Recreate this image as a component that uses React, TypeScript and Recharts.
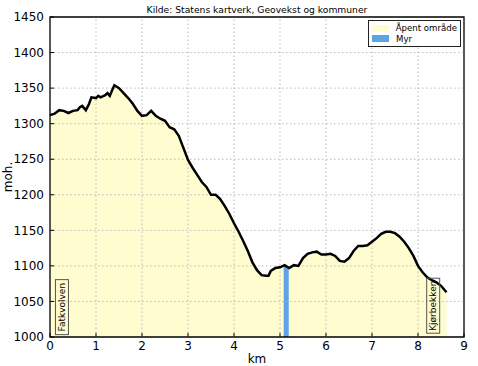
import React from 'react';
import {
  ComposedChart, Area, Line, XAxis, YAxis, ReferenceArea, ReferenceDot, ReferenceLine,
} from 'recharts';

const kmValues = [
  0, 0.1, 0.2, 0.3, 0.4, 0.5, 0.6, 0.65, 0.7, 0.78, 0.85, 0.9, 1.0, 1.05, 1.1, 1.2, 1.25, 1.3, 1.35, 1.4,
  1.5, 1.6, 1.7, 1.8, 1.9, 2.0, 2.1, 2.2, 2.3, 2.4, 2.5, 2.6, 2.7, 2.8, 2.9, 3.0, 3.1, 3.2, 3.3, 3.4,
  3.5, 3.6, 3.7, 3.8, 3.9, 4.0, 4.1, 4.2, 4.3, 4.4, 4.5, 4.6, 4.7, 4.75, 4.8, 4.9, 5.0, 5.1, 5.2, 5.3,
  5.4, 5.5, 5.6, 5.7, 5.8, 5.9, 6.0, 6.1, 6.2, 6.3, 6.4, 6.5, 6.6, 6.7, 6.8, 6.9, 7.0, 7.1, 7.2, 7.3,
  7.4, 7.5, 7.6, 7.7, 7.8, 7.9, 8.0, 8.1, 8.2, 8.3, 8.4, 8.5, 8.62,
];
const elevations = [
  1312, 1314, 1319, 1318, 1315, 1318, 1319, 1323, 1325, 1319, 1328, 1337, 1336, 1339, 1337, 1340, 1343, 1339, 1347, 1354,
  1350, 1343, 1336, 1328, 1318, 1311, 1312, 1318, 1311, 1307, 1304, 1295, 1292, 1283, 1266, 1249, 1238, 1228, 1218, 1211,
  1200, 1200, 1194, 1184, 1173, 1160, 1148, 1135, 1121, 1105, 1094, 1087, 1086, 1086, 1093, 1097, 1098, 1101, 1097, 1101,
  1100, 1111, 1117, 1119, 1120, 1116, 1116, 1117, 1114, 1107, 1106, 1111, 1121, 1128, 1128, 1129, 1134, 1139, 1145, 1148,
  1148, 1146, 1141, 1134, 1125, 1114, 1100, 1091, 1084, 1080, 1077, 1072, 1063,
];

const myrStartKm = [5.08];
const myrEndKm = [5.19];
const myrElev = [1100];

const placeNames = ['Fatkvolven', 'Kjørbekken'];
const placeKm = [0.26, 8.33];
const placeElev = [1042, 1044];

const xTicks = [0, 1, 2, 3, 4, 5, 6, 7, 8, 9];
const yTicks = [1000, 1050, 1100, 1150, 1200, 1250, 1300, 1350, 1400, 1450];

const legendNames = ['Åpent område', 'Myr'];

const rows = kmValues.map((k, i) => ({ km: k, elev: elevations[i] }));

const FONT = 'DejaVu Sans';
const OPEN = '#FFFCD0';
const MYR = '#5EA3E6';
const legendColors = [OPEN, MYR];

const PlaceLabel = (name: string) => (props: any) => {
  const { cx, cy } = props;
  const w = 13;
  const h = name.length * 5.2 + 3;
  return (
    <g>
      <rect x={cx - w / 2} y={cy - h / 2} width={w} height={h} fill="none" stroke="#555" strokeWidth={1} />
      <text
        x={cx}
        y={cy}
        transform={`rotate(-90 ${cx} ${cy})`}
        textAnchor="middle"
        dominantBaseline="central"
        fontFamily={FONT}
        fontSize={9}
        fill="#000"
      >
        {name}
      </text>
    </g>
  );
};

export default function App() {
  return (
    <div style={{ position: 'absolute', left: 0, top: 0, width: 478, height: 366, background: '#fff' }}>
      <ComposedChart
        width={478}
        height={366}
        data={rows}
        margin={{ top: 17, right: 14, left: 0, bottom: 0 }}
        style={{ position: 'absolute', left: 0, top: 0 }}
      >
        <XAxis
          dataKey="km"
          type="number"
          domain={[0, 9]}
          ticks={xTicks}
          height={29}
          axisLine={false}
          tickSize={-4}
          tickMargin={8}
          tickLine={{ stroke: '#000' }}
          tick={{ fontFamily: FONT, fontSize: 12, fill: '#000' }}
          interval={0}
          label={{ value: 'km', position: 'insideBottom', offset: 3, fontFamily: FONT, fontSize: 12, fill: '#000' }}
        />
        <XAxis
          xAxisId="top"
          dataKey="km"
          type="number"
          orientation="top"
          domain={[0, 9]}
          ticks={xTicks}
          height={0}
          axisLine={false}
          tickSize={-4}
          tickLine={{ stroke: '#000' }}
          tick={{ fill: 'none', fontSize: 1 }}
          interval={0}
        />
        <YAxis
          type="number"
          domain={[1000, 1450]}
          ticks={yTicks}
          width={50}
          axisLine={false}
          tickSize={-4}
          tickMargin={10}
          tickLine={{ stroke: '#000' }}
          tick={{ fontFamily: FONT, fontSize: 12, fill: '#000' }}
          interval={0}
          allowDataOverflow
          label={{
            value: 'moh.',
            angle: -90,
            position: 'insideLeft',
            offset: 8,
            fontFamily: FONT,
            fontSize: 12,
            fill: '#000',
            style: { textAnchor: 'middle' },
          }}
        />
        <YAxis
          yAxisId="right"
          orientation="right"
          type="number"
          domain={[1000, 1450]}
          ticks={yTicks}
          width={0}
          axisLine={false}
          tickSize={-4}
          tickLine={{ stroke: '#000' }}
          tick={{ fill: 'none', fontSize: 1 }}
          interval={0}
          allowDataOverflow
        />
        <Area
          dataKey="elev"
          type="linear"
          fill={OPEN}
          fillOpacity={1}
          stroke="none"
          isAnimationActive={false}
          baseValue={1000}
        />
        {xTicks.slice(1, -1).map((t) => (
          <ReferenceLine key={'vx' + t} x={t} stroke="#aaa" strokeDasharray="1.5 2.5" strokeWidth={0.8} />
        ))}
        {yTicks.slice(1, -1).map((t) => (
          <ReferenceLine key={'hy' + t} y={t} stroke="#aaa" strokeDasharray="1.5 2.5" strokeWidth={0.8} />
        ))}
        {myrStartKm.map((s, i) => (
          <ReferenceArea
            key={'myr' + i}
            x1={s}
            x2={myrEndKm[i]}
            y1={1000}
            y2={myrElev[i]}
            fill={MYR}
            fillOpacity={1}
            stroke="none"
          />
        ))}
        <Line
          dataKey="elev"
          type="linear"
          stroke="#000"
          strokeWidth={2.5}
          dot={false}
          isAnimationActive={false}
        />
        <ReferenceArea x1={0} x2={9} y1={1000} y2={1450} fill="none" stroke="#000" strokeWidth={1.3} ifOverflow="visible" />
        {placeNames.map((n, i) => (
          <ReferenceDot key={n} x={placeKm[i]} y={placeElev[i]} r={0} shape={PlaceLabel(n)} ifOverflow="visible" />
        ))}
      </ComposedChart>
      <svg width={478} height={20} style={{ position: 'absolute', left: 0, top: 0 }}>
        <text x={257} y={13} textAnchor="middle" fontFamily={FONT} fontSize={9.2} fill="#000">
          Kilde: Statens kartverk, Geovekst og kommuner
        </text>
      </svg>
      <div
        style={{
          position: 'absolute',
          left: 368,
          top: 20,
          width: 93,
          height: 27,
          border: '1.3px solid #222',
          background: '#fff',
          boxSizing: 'border-box',
          fontFamily: FONT,
          fontSize: 8.6,
          padding: '2px 3px',
          lineHeight: '10.5px',
          whiteSpace: 'nowrap',
        }}
      >
        {legendNames.map((n, i) => (
          <div key={n} style={{ display: 'flex', alignItems: 'center' }}>
            <span style={{ display: 'inline-block', width: 17, height: 7, background: legendColors[i], marginRight: 7 }} />
            <span>{n}</span>
          </div>
        ))}
      </div>
    </div>
  );
}
